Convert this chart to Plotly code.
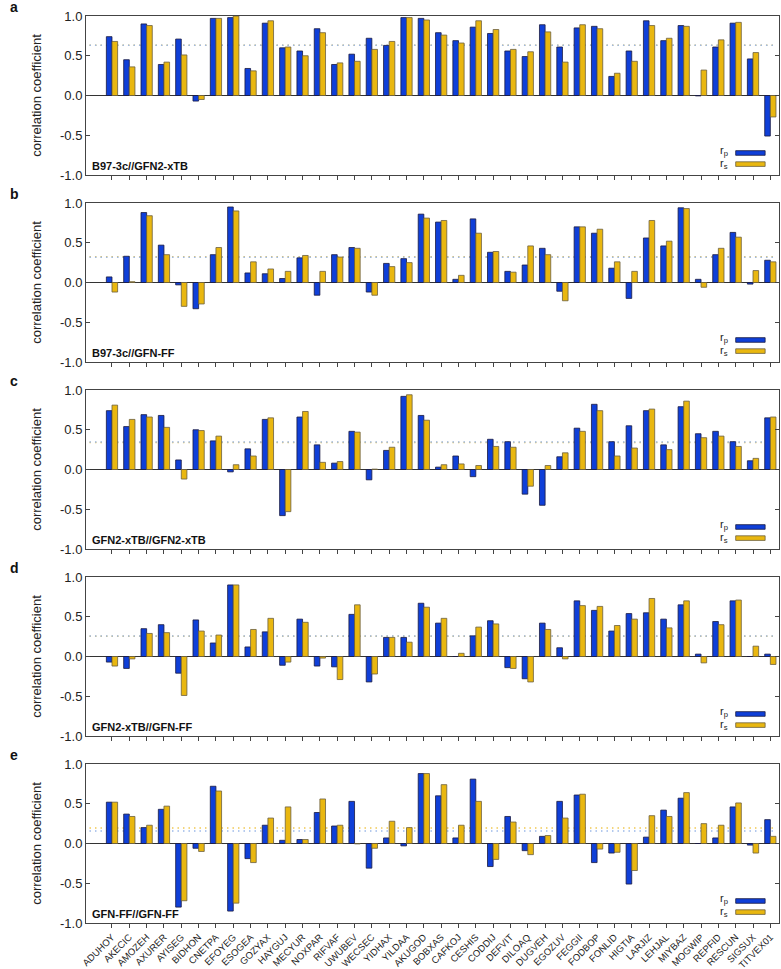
import plotly.graph_objects as go
from plotly.subplots import make_subplots

categories = ["ADUHOY", "AKECIC", "AMOZEH", "AXURER", "AYISEG", "BIDHON", "CNETPA", "EFOYEG",
              "ESOGEA", "GOZYAX", "HAYGUJ", "MECYUR", "NOXPAR", "RIFVAF", "UWUBEV", "WECSEC",
              "YIDHAX", "YILDAA", "AKUGOD", "BOBXAS", "CAFKOJ", "CESHIS", "CODDIJ", "DEFVIT",
              "DILOAQ", "DUGVEH", "EGOZUV", "FEGGII", "FODBOP", "FONLID", "HIGTIA", "LARJIZ",
              "LEHJAL", "MIYBAZ", "MOGWIP", "REPFID", "RESCUN", "SIGSUX", "TITVEX01"]

panel_letters = ["a", "b", "c", "d", "e"]
panel_names = ["B97-3c//GFN2-xTB", "B97-3c//GFN-FF", "GFN2-xTB//GFN2-xTB",
               "GFN2-xTB//GFN-FF", "GFN-FF//GFN-FF"]

# panel a: B97-3c//GFN2-xTB
a_rp = [0.74, 0.45, 0.90, 0.39, 0.71, -0.07, 0.97, 0.98, 0.34, 0.91, 0.60, 0.56, 0.84, 0.39, 0.52,
        0.72, 0.63, 0.98, 0.97, 0.79, 0.69, 0.86, 0.78, 0.56, 0.49, 0.89, 0.61, 0.85, 0.87, 0.24,
        0.56, 0.94, 0.69, 0.88, -0.005, 0.61, 0.91, 0.46, -0.51]
a_rs = [0.68, 0.36, 0.88, 0.42, 0.51, -0.05, 0.97, 1.00, 0.31, 0.94, 0.61, 0.50, 0.79, 0.41, 0.43,
        0.58, 0.68, 0.98, 0.95, 0.76, 0.66, 0.94, 0.83, 0.58, 0.55, 0.80, 0.42, 0.89, 0.84, 0.28,
        0.43, 0.88, 0.72, 0.87, 0.32, 0.70, 0.92, 0.54, -0.27]
# panel b: B97-3c//GFN-FF
b_rp = [0.07, 0.33, 0.88, 0.47, -0.03, -0.33, 0.35, 0.95, 0.12, 0.11, 0.05, 0.31, -0.16, 0.35, 0.44,
        -0.12, 0.24, 0.30, 0.86, 0.76, 0.04, 0.80, 0.38, 0.14, 0.22, 0.43, -0.11, 0.70, 0.62, 0.18,
        -0.20, 0.56, 0.46, 0.94, 0.04, 0.35, 0.63, -0.02, 0.28]
b_rs = [-0.12, 0.01, 0.84, 0.35, -0.30, -0.27, 0.44, 0.90, 0.26, 0.17, 0.14, 0.34, 0.14, 0.32, 0.43,
        -0.16, 0.20, 0.25, 0.81, 0.78, 0.09, 0.62, 0.39, 0.13, 0.46, 0.35, -0.23, 0.70, 0.67, 0.26,
        0.14, 0.78, 0.52, 0.93, -0.06, 0.43, 0.57, 0.15, 0.26]
# panel c: GFN2-xTB//GFN2-xTB
c_rp = [0.74, 0.54, 0.69, 0.68, 0.12, 0.50, 0.36, -0.03, 0.26, 0.63, -0.58, 0.66, 0.31, 0.08, 0.48,
        -0.13, 0.24, 0.92, 0.68, 0.03, 0.17, -0.09, 0.38, 0.35, -0.31, -0.45, 0.16, 0.52, 0.82, 0.35,
        0.55, 0.74, 0.31, 0.79, 0.45, 0.48, 0.35, 0.11, 0.65]
c_rs = [0.81, 0.63, 0.66, 0.53, -0.12, 0.49, 0.42, 0.06, 0.17, 0.65, -0.53, 0.73, 0.09, 0.10, 0.47,
        0.005, 0.28, 0.94, 0.62, 0.06, 0.07, 0.05, 0.29, 0.28, -0.21, 0.05, 0.21, 0.48, 0.74, 0.17,
        0.27, 0.76, 0.25, 0.86, 0.40, 0.42, 0.29, 0.14, 0.66]
# panel d: GFN2-xTB//GFN-FF
d_rp = [-0.07, -0.15, 0.35, 0.40, -0.21, 0.46, 0.17, 0.90, 0.12, 0.31, -0.11, 0.47, -0.12, -0.13, 0.53,
        -0.32, 0.24, 0.24, 0.67, 0.42, 0.0, 0.26, 0.45, -0.14, -0.28, 0.42, 0.11, 0.70, 0.58, 0.32,
        0.54, 0.55, 0.47, 0.65, 0.03, 0.44, 0.70, 0.0, 0.03]
d_rs = [-0.12, -0.03, 0.29, 0.30, -0.49, 0.32, 0.27, 0.90, 0.34, 0.48, -0.07, 0.43, -0.02, -0.29, 0.65,
        -0.22, 0.24, 0.18, 0.62, 0.48, 0.04, 0.37, 0.41, -0.15, -0.32, 0.34, -0.03, 0.64, 0.63, 0.39,
        0.47, 0.73, 0.36, 0.70, -0.08, 0.40, 0.71, 0.13, -0.10]
# panel e: GFN-FF//GFN-FF
e_rp = [0.52, 0.37, 0.20, 0.43, -0.80, -0.06, 0.72, -0.85, -0.19, 0.23, 0.04, 0.05, 0.39, 0.22, 0.53,
        -0.31, 0.07, -0.03, 0.88, 0.60, 0.07, 0.81, -0.29, 0.34, -0.09, 0.09, 0.53, 0.61, -0.24, -0.12,
        -0.51, 0.08, 0.42, 0.57, 0.0, 0.07, 0.46, -0.02, 0.30]
e_rs = [0.52, 0.34, 0.23, 0.47, -0.72, -0.10, 0.66, -0.75, -0.24, 0.32, 0.46, 0.05, 0.56, 0.23, -0.005,
        -0.06, 0.28, 0.20, 0.88, 0.74, 0.23, 0.53, -0.20, 0.27, -0.14, 0.10, 0.32, 0.62, -0.07, -0.11,
        -0.34, 0.35, 0.34, 0.64, 0.25, 0.23, 0.51, -0.12, 0.09]

rp_series = [a_rp, b_rp, c_rp, d_rp, e_rp]
rs_series = [a_rs, b_rs, c_rs, d_rs, e_rs]

BLUE = "#0f3fd8"
YELLOW = "#e9b710"
FONT = "Liberation Sans, Arial, sans-serif"

n_rows = 5
fig = make_subplots(rows=n_rows, cols=1, vertical_spacing=28 / 907)

for k in range(n_rows):
    r = k + 1
    fig.add_trace(go.Bar(x=categories, y=rp_series[k], marker_color=BLUE,
                         marker_line_color="#1a1a40", marker_line_width=0.8,
                         showlegend=False, name="r_p"), row=r, col=1)
    fig.add_trace(go.Bar(x=categories, y=rs_series[k], marker_color=YELLOW,
                         marker_line_color="#6b6040", marker_line_width=0.8,
                         showlegend=False, name="r_s"), row=r, col=1)
    sfx = "" if r == 1 else str(r)
    xd = f"x{sfx} domain"
    yd = f"y{sfx} domain"
    yr = f"y{sfx}"
    mean_p = sum(rp_series[k]) / len(rp_series[k])
    mean_s = sum(rs_series[k]) / len(rs_series[k])
    fig.add_shape(type="line", xref=xd, yref=yr, x0=0.005, x1=0.995, y0=mean_s, y1=mean_s,
                  line=dict(color="#f0c850", width=1.5, dash="1.5px,4px"), layer="below")
    fig.add_shape(type="line", xref=xd, yref=yr, x0=0.005, x1=0.995, y0=mean_p, y1=mean_p,
                  line=dict(color="#9bb8e8", width=1.5, dash="1.5px,4px"), layer="below")
    # legend swatches
    fig.add_shape(type="rect", xref=xd, yref=yd, x0=0.9375, x1=0.98, y0=0.124, y1=0.153,
                  fillcolor=BLUE, line=dict(color="#1a1a40", width=0.8))
    fig.add_shape(type="rect", xref=xd, yref=yd, x0=0.9375, x1=0.98, y0=0.054, y1=0.083,
                  fillcolor=YELLOW, line=dict(color="#6b6040", width=0.8))
    fig.add_annotation(xref=xd, yref=yd, x=0.93, y=0.15, text="r<sub>p</sub>", showarrow=False,
                       xanchor="right", yanchor="middle", font=dict(size=11, family=FONT, color="#222"))
    fig.add_annotation(xref=xd, yref=yd, x=0.93, y=0.07, text="r<sub>s</sub>", showarrow=False,
                       xanchor="right", yanchor="middle", font=dict(size=11, family=FONT, color="#222"))
    # panel name
    fig.add_annotation(xref=xd, yref=yd, x=0.006, y=0.058, text=f"<b>{panel_names[k]}</b>",
                       showarrow=False, xanchor="left", yanchor="middle",
                       font=dict(size=11, family=FONT, color="#111"))
    # panel letter
    fig.add_annotation(xref=xd, yref=yd, x=-0.113, y=1.056, text=f"<b>{panel_letters[k]}</b>",
                       showarrow=False, xanchor="left", yanchor="middle",
                       font=dict(size=14, family=FONT, color="#111"))

    fig.update_xaxes(row=r, col=1, type="category", range=[-1.5, len(categories) - 0.5],
                     automargin=False,
                     showline=True, mirror=True, linecolor="#444", linewidth=1,
                     ticks="outside", ticklen=4, tickcolor="#444", showgrid=False,
                     showticklabels=(r == n_rows), tickangle=-45,
                     tickfont=dict(size=9.5, family=FONT, color="#222"))
    fig.update_yaxes(row=r, col=1, range=[-1, 1], tickvals=[-1, -0.5, 0, 0.5, 1],
                     ticktext=["-1.0", "-0.5", "0.0", "0.5", "1.0"], automargin=False,
                     showline=True, mirror="ticks", linecolor="#444", linewidth=1,
                     ticks="inside", ticklen=4, tickcolor="#444", showgrid=False,
                     zeroline=True, zerolinecolor="#333", zerolinewidth=1,
                     tickfont=dict(size=13, family=FONT, color="#222"),
                     title=dict(text="correlation coefficient",
                                font=dict(size=13, family=FONT, color="#222")))

fig.update_layout(width=781, height=969, barmode="group", bargap=0.35, bargroupgap=0,
                  margin=dict(l=86, r=2, t=16, b=46), plot_bgcolor="white", paper_bgcolor="white",
                  font=dict(family=FONT), showlegend=False)

fig.write_html("out.html", config={"displayModeBar": False},
               post_script="document.body.style.margin='0';document.body.style.padding='0';")
